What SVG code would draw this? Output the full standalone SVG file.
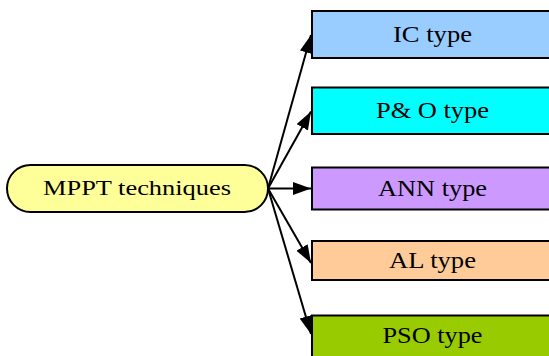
<svg xmlns="http://www.w3.org/2000/svg" width="549" height="356" viewBox="0 0 549 356">
<style>
.box{stroke:#000;stroke-width:2}
.lbl{font-family:"Liberation Serif","Times New Roman",serif;font-size:24px;fill:#000;text-anchor:middle}
.edge{stroke:#000;stroke-width:2;fill:none}
</style>
<defs>
<marker id="ah" markerUnits="userSpaceOnUse" markerWidth="20" markerHeight="14" refX="18" refY="6.5" orient="auto">
<path d="M0,0 L18,6.5 L0,13 Z" fill="#000"/>
</marker>
</defs>
<rect width="549" height="356" fill="#fff"/>
<g id="edges">
<line class="edge" x1="268" y1="188.5" x2="311" y2="35" marker-end="url(#ah)"/>
<line class="edge" x1="268" y1="188.5" x2="311" y2="111.5" marker-end="url(#ah)"/>
<line class="edge" x1="268" y1="188.5" x2="311" y2="188.5" marker-end="url(#ah)"/>
<line class="edge" x1="268" y1="188.5" x2="311" y2="263" marker-end="url(#ah)"/>
<line class="edge" x1="268" y1="188.5" x2="311" y2="334" marker-end="url(#ah)"/>
</g>
<g id="mppt">
<rect class="box" x="7" y="165" width="261" height="47" rx="23.5" ry="23.5" fill="#ffff99"/>
<text class="lbl" x="137" y="194.5" style="font-size:22px" textLength="188" lengthAdjust="spacingAndGlyphs">MPPT techniques</text>
</g>
<g id="ic">
<rect class="box" x="312" y="11" width="245" height="47" fill="#99ccff"/>
<text class="lbl" x="432.5" y="42" textLength="79" lengthAdjust="spacingAndGlyphs">IC type</text>
</g>
<g id="po">
<rect class="box" x="312" y="87.5" width="245" height="46.5" fill="#00ffff"/>
<text class="lbl" x="432.5" y="118" textLength="113" lengthAdjust="spacingAndGlyphs">P&amp; O type</text>
</g>
<g id="ann">
<rect class="box" x="312" y="167.5" width="245" height="42" fill="#cc99ff"/>
<text class="lbl" x="432.5" y="196" textLength="109" lengthAdjust="spacingAndGlyphs">ANN type</text>
</g>
<g id="al">
<rect class="box" x="312" y="241" width="245" height="39" fill="#ffcc99"/>
<text class="lbl" x="432.5" y="268" textLength="87" lengthAdjust="spacingAndGlyphs">AL type</text>
</g>
<g id="pso">
<rect class="box" x="312" y="315.5" width="245" height="50" fill="#99cc00"/>
<text class="lbl" x="432.5" y="343" textLength="100" lengthAdjust="spacingAndGlyphs">PSO type</text>
</g>
</svg>
